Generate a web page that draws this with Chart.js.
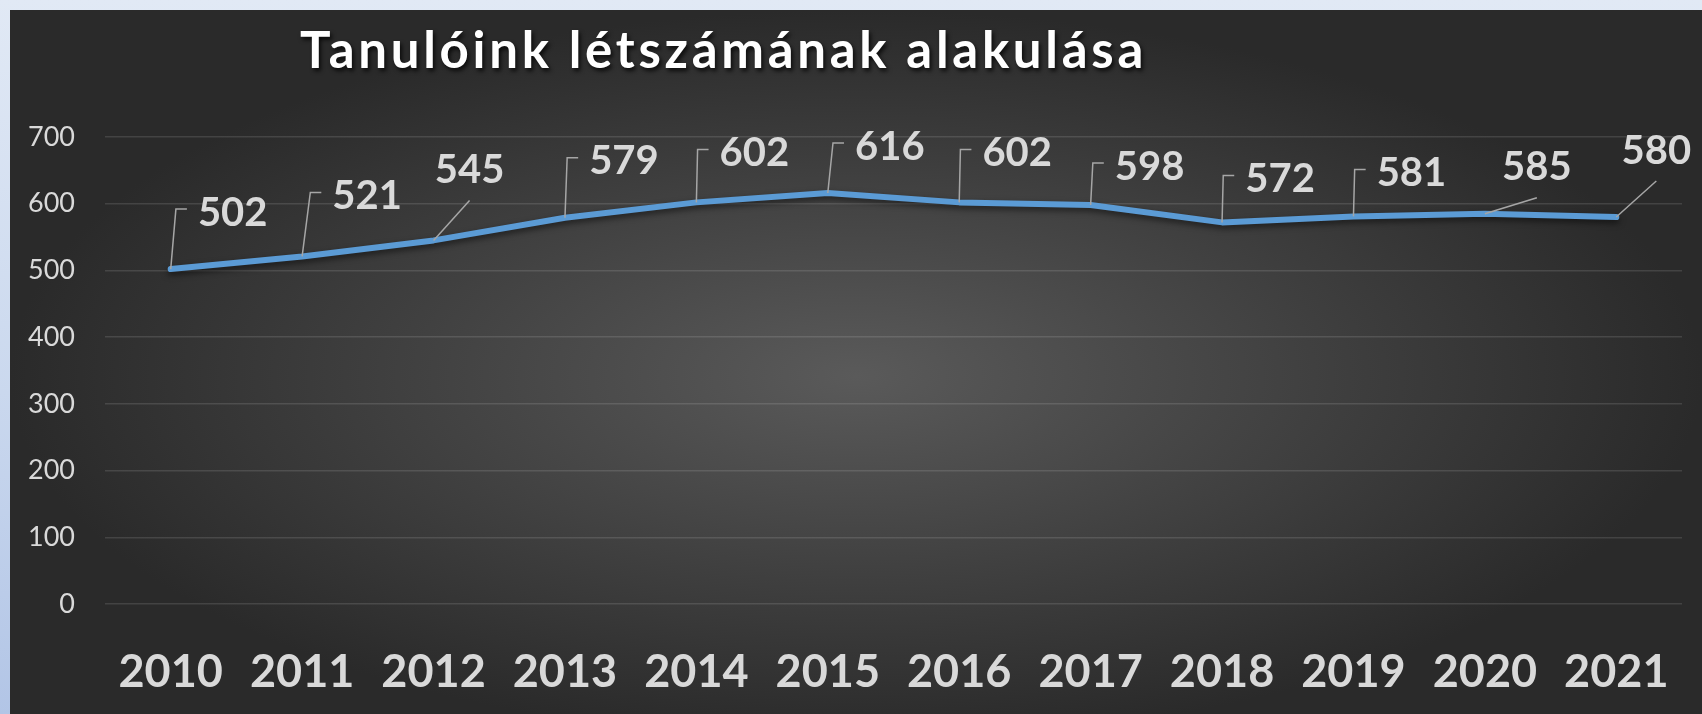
<!doctype html>
<html lang="hu">
  <head>
    <meta charset="UTF-8" />
    <title>Tanulóink létszámának alakulása</title>
    <script src="https://cdn.jsdelivr.net/npm/chart.js"></script>
    <style>
      html, body {
        margin: 0;
        padding: 0;
        width: 1702px;
        height: 714px;
        overflow: hidden;
        background: linear-gradient(180deg, #e1e9f5 0%, #cad8ee 55%, #b2c5e6 100%);
        font-family: "Lato", sans-serif;
      }

      .panel {
        position: absolute;
        left: 10px;
        top: 10px;
        width: 1692px;
        height: 704px;
        background: radial-gradient(farthest-side at 50% 52%, #5a5a5a 0%, #2a2a2a 100%);
      }

      .title {
        position: absolute;
        left: 290px;
        top: 9px;
        margin: 0;
        font-size: 51px;
        font-weight: 700;
        letter-spacing: 3.7px;
        line-height: 60px;
        color: #ffffff;
        text-shadow: 2px 3px 4px rgba(0, 0, 0, 0.75);
        white-space: nowrap;
      }

      .chart-box {
        position: absolute;
        left: 0;
        top: 0;
        width: 1692px;
        height: 704px;
      }
    </style>
  </head>
  <body>
    <div class="panel">
      <div class="chart-box"><canvas id="studentChart"></canvas></div>
      <h1 class="title">Tanulóink létszámának alakulása</h1>
    </div>

    <script>
      const years = ["2010", "2011", "2012", "2013", "2014", "2015", "2016", "2017", "2018", "2019", "2020", "2021"];
      const students = [502, 521, 545, 579, 602, 616, 602, 598, 572, 581, 585, 580];
      const yMin = 0;
      const yMax = 700;
      const yStep = 100;

      // where each data label sits, relative to its point (labels were dragged by hand in the original)
      const labelShift = [[62, -58], [65, -62], [36, -72], [59, -58], [58, -51], [62, -48],
                          [58, -51], [59, -40], [58, -45], [58, -45], [52, -48], [40, -68]];
      const leaderKind = ["elbow", "elbow", "diag", "elbow", "elbow", "elbow",
                          "elbow", "elbow", "elbow", "elbow", "diag", "diag"];

      const labelColor = "#d9d9d9";

      // soft shadow under the line
      const lineShadow = {
        id: "lineShadow",
        beforeDatasetDraw(chart) {
          const ctx = chart.ctx;
          ctx.save();
          ctx.shadowColor = "rgba(0, 0, 0, 0.55)";
          ctx.shadowBlur = 6;
          ctx.shadowOffsetY = 3;
        },
        afterDatasetDraw(chart) {
          chart.ctx.restore();
        }
      };

      // value labels with leader lines
      const valueLabels = {
        id: "valueLabels",
        afterDatasetsDraw(chart) {
          const ctx = chart.ctx;
          const meta = chart.getDatasetMeta(0);
          ctx.save();
          ctx.font = "bold 40px Lato";
          meta.data.forEach((pt, i) => {
            const [dx, dy] = labelShift[i];
            const cx = pt.x + dx;
            const cy = pt.y + dy;
            const txt = String(students[i]);
            const w = ctx.measureText(txt).width;
            const left = cx - w / 2;

            ctx.strokeStyle = "#a6a6a6";
            ctx.lineWidth = 1.5;
            ctx.beginPath();
            ctx.moveTo(pt.x, pt.y);
            if (leaderKind[i] === "elbow") {
              ctx.lineTo(left - 22, cy - 2);
              ctx.lineTo(left - 11, cy - 2);
            } else {
              ctx.lineTo(cx, cy + 32);
            }
            ctx.stroke();

            ctx.fillStyle = labelColor;
            ctx.textAlign = "center";
            ctx.textBaseline = "alphabetic";
            ctx.fillText(txt, cx, cy + 14.5);
          });
          ctx.restore();
        }
      };

      const ctx = document.getElementById("studentChart").getContext("2d");
      const studentChart = new Chart(ctx, {
        type: "line",
        data: {
          labels: years,
          datasets: [
            {
              label: "Tanulók",
              data: students,
              borderColor: "#5b9bd5",
              borderWidth: 6,
              borderCapStyle: "round",
              borderJoinStyle: "round",
              pointRadius: 0,
              tension: 0,
              fill: false
            }
          ]
        },
        options: {
          responsive: true,
          maintainAspectRatio: false,
          animation: false,
          layout: {
            padding: { top: 127, right: 20, bottom: 0, left: 0 }
          },
          plugins: {
            legend: { display: false },
            tooltip: { enabled: false }
          },
          scales: {
            x: {
              offset: true,
              // invisible tick marks push the year labels down without adding side padding
              grid: { display: false, drawTicks: true, tickLength: 41 },
              border: { display: false },
              ticks: {
                color: labelColor,
                padding: 0,
                font: { family: "Lato", size: 45, weight: "bold" }
              },
              afterFit(scale) {
                scale.height = 110;
              }
            },
            y: {
              min: yMin,
              max: yMax,
              grid: {
                color: "rgba(255, 255, 255, 0.12)",
                lineWidth: 1.5,
                drawTicks: false
              },
              border: { display: false },
              ticks: {
                stepSize: yStep,
                color: labelColor,
                padding: 30,
                font: { family: "Lato", size: 27 }
              },
              afterFit(scale) {
                scale.width = 95;
              }
            }
          }
        },
        plugins: [lineShadow, valueLabels]
      });
    </script>
  </body>
</html>
